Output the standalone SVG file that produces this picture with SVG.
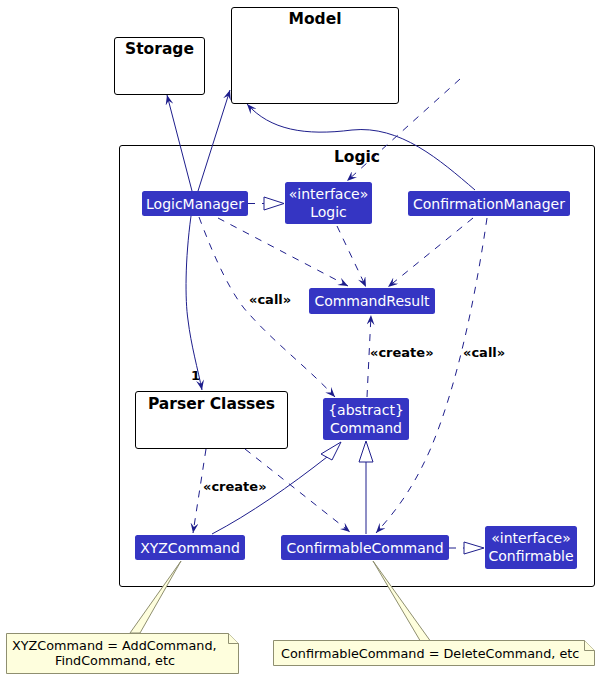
<svg xmlns="http://www.w3.org/2000/svg" width="600" height="679" viewBox="0 0 600 679">
<style>
.pkg{fill:#FFFFFF;stroke:#000000;stroke-width:1}
.ptitle{font-family:"DejaVu Sans",sans-serif;font-size:15.5px;font-weight:bold;fill:#000000;text-anchor:middle}
.cls{fill:#3535C3;stroke:none}
.ct{font-family:"DejaVu Sans",sans-serif;font-size:14px;fill:#FFFFFF;text-anchor:middle}
.e{fill:none;stroke:#1E1E8C;stroke-width:1}
.d{stroke-dasharray:7,7}
.lbl{font-family:"DejaVu Sans",sans-serif;font-size:13px;font-weight:bold;fill:#000000}
.note{fill:#FEFEDD;stroke:#8F8F70;stroke-width:1}
.nt{font-family:"DejaVu Sans",sans-serif;font-size:12.8px;fill:#000000}
.tri{fill:#FFFFFF;stroke:#1E1E8C;stroke-width:1}
</style>
<defs>
<marker id="arr" viewBox="0 0 10 8" refX="10" refY="4" markerWidth="10" markerHeight="8" markerUnits="userSpaceOnUse" orient="auto">
<path d="M0,0 L10,4 L0,8 L4,4 Z" fill="#1E1E8C"/>
</marker>
</defs>

<g id="storage">
<rect class="pkg" x="114.5" y="37.5" width="90" height="57" rx="2.5"/>
<text class="ptitle" x="159.5" y="54">Storage</text>
</g>
<g id="model">
<rect class="pkg" x="231.5" y="7.5" width="167" height="96" rx="2.5"/>
<text class="ptitle" x="315" y="24">Model</text>
</g>
<g id="logic">
<rect class="pkg" x="119.5" y="145.5" width="475" height="441" rx="2.5"/>
<text class="ptitle" x="357" y="161.5">Logic</text>
</g>

<g id="LogicManager">
<rect class="cls" x="142" y="191" width="106" height="25" rx="2.5"/>
<text class="ct" x="195" y="208.5">LogicManager</text>
</g>
<g id="LogicInterface">
<rect class="cls" x="285" y="182" width="87" height="42" rx="2.5"/>
<text class="ct" x="328.5" y="199">«interface»</text>
<text class="ct" x="328.5" y="216.5">Logic</text>
</g>
<g id="ConfirmationManager">
<rect class="cls" x="408" y="191" width="162" height="25" rx="2.5"/>
<text class="ct" x="489" y="208.5">ConfirmationManager</text>
</g>
<g id="CommandResult">
<rect class="cls" x="309" y="288" width="126" height="26" rx="2.5"/>
<text class="ct" x="372" y="306">CommandResult</text>
</g>
<g id="Command">
<rect class="cls" x="323" y="398" width="86" height="42" rx="2.5"/>
<text class="ct" x="366" y="415">{abstract}</text>
<text class="ct" x="366" y="432.5">Command</text>
</g>
<g id="ParserClasses">
<rect class="pkg" x="135.5" y="391.5" width="152" height="57" rx="2.5"/>
<text class="ptitle" x="211.5" y="408.5">Parser Classes</text>
</g>
<g id="XYZCommand">
<rect class="cls" x="135" y="535" width="110" height="25" rx="2.5"/>
<text class="ct" x="190" y="552.5">XYZCommand</text>
</g>
<g id="ConfirmableCommand">
<rect class="cls" x="281" y="535" width="168" height="25" rx="2.5"/>
<text class="ct" x="365" y="552.5">ConfirmableCommand</text>
</g>
<g id="ConfirmableInterface">
<rect class="cls" x="485" y="526" width="92" height="43" rx="2.5"/>
<text class="ct" x="531" y="543">«interface»</text>
<text class="ct" x="531" y="560.5">Confirmable</text>
</g>

<g id="connectors">
<path class="e" d="M192,191 L167,95" marker-end="url(#arr)"/>
<path class="e" d="M198,191 L230,90" marker-end="url(#arr)"/>
<path class="e" d="M475,190 C440,160 400,125 352,130 C305,136 270,130 247,104" marker-end="url(#arr)"/>
<path class="e d" d="M460,79 L347,181" marker-end="url(#arr)"/>
<path class="e d" d="M248,203.5 L264,203.5"/>
<polygon class="tri" points="264,197 284,203.5 264,210"/>
<path class="e d" d="M218,218 L348,286" marker-end="url(#arr)"/>
<path class="e d" d="M337,226 L366,287" marker-end="url(#arr)"/>
<path class="e d" d="M473,218 L388,287" marker-end="url(#arr)"/>
<path class="e" d="M191,216 C185,260 185,300 188,320 C191,345 198,370 202,390" marker-end="url(#arr)"/>
<text class="lbl" x="191" y="380">1</text>
<path class="e d" d="M199,217 C215,260 233,298 250,315 C275,343 310,370 335,397" marker-end="url(#arr)"/>
<text class="lbl" x="249" y="304">«call»</text>
<path class="e d" d="M367,397 L371,315" marker-end="url(#arr)"/>
<text class="lbl" x="370" y="357">«create»</text>
<path class="e d" d="M487,218 C478,280 460,380 430,450 C411,493 392,515 376,533" marker-end="url(#arr)"/>
<text class="lbl" x="463" y="357">«call»</text>
<path class="e d" d="M206,449 L193,533" marker-end="url(#arr)"/>
<text class="lbl" x="203" y="491">«create»</text>
<path class="e d" d="M245,449 L350,532" marker-end="url(#arr)"/>
<path class="e" d="M212,534 C250,514 290,486 327,457"/>
<polygon class="tri" points="341,442 332,460 321,454"/>
<path class="e" d="M366,534 L366,462"/>
<polygon class="tri" points="366,441 373,462 359,462"/>
<path class="e d" d="M449,548 L464,548"/>
<polygon class="tri" points="464,542 484,548 464,554"/>
</g>

<g id="note1">
<polygon class="note" points="181,561 140,633 130,633"/>
<path class="note" d="M6.5,633.5 L228.5,633.5 L238.5,643.5 L238.5,673.5 L6.5,673.5 Z"/>
<path class="note" d="M228.5,633.5 L228.5,643.5 L238.5,643.5"/>
<text class="nt" x="12" y="650">XYZCommand = AddCommand,</text>
<text class="nt" x="115" y="665" text-anchor="middle">FindCommand, etc</text>
</g>
<g id="note2">
<polygon class="note" points="373,561 430,640.5 420,640.5"/>
<path class="note" d="M273.5,640.5 L584.5,640.5 L594.5,650.5 L594.5,665.5 L273.5,665.5 Z"/>
<path class="note" d="M584.5,640.5 L584.5,650.5 L594.5,650.5"/>
<text class="nt" x="281" y="658">ConfirmableCommand = DeleteCommand, etc</text>
</g>
</svg>
